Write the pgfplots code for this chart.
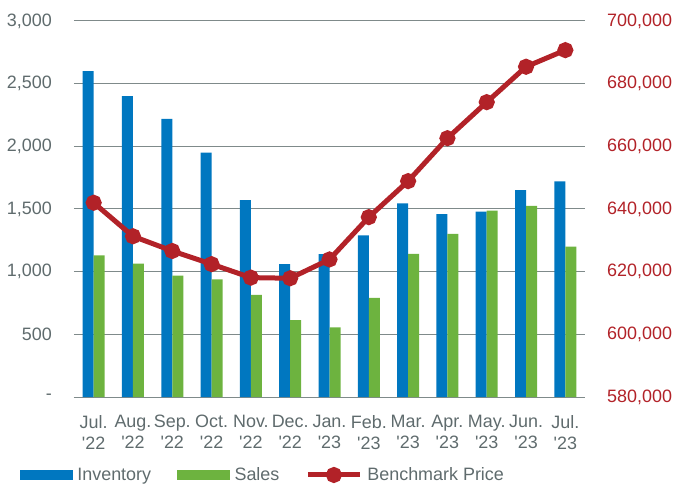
\documentclass[border=0pt]{standalone}
\usepackage{fontspec}
\setmainfont{Liberation Sans}
\usepackage{pgfplots}
\pgfplotsset{compat=1.18}

\definecolor{invblue}{HTML}{0077C0}
\definecolor{salesgreen}{HTML}{6DB33F}
\definecolor{pricered}{HTML}{B22228}
\definecolor{textgray}{HTML}{5F6B6D}
\definecolor{gridgray}{HTML}{7F8A8A}

\newcommand{\q}{\textquotesingle}

% month index, inventory, sales
\pgfplotstableread{
x inv sales
0 2600 1130
1 2400 1065
2 2220 968
3 1950 939
4 1570 814
5 1060 614
6 1140 556
7 1290 790
8 1545 1141
9 1460 1301
10 1480 1487
11 1650 1524
12 1720 1200
}\barsdata

\pgfplotstableread{
x price
0 642000
1 631300
2 626600
3 622400
4 618100
5 617900
6 623900
7 637400
8 648900
9 662600
10 674100
11 685400
12 690700
}\pricedata

\begin{document}
\begin{tikzpicture}
\pgfplotsset{
  every axis/.append style={
    scale only axis,
    width=511bp, height=376bp,
    xmin=-0.5, xmax=12.5,
    font=\fontsize{18}{21}\selectfont,
  },
}
\begin{axis}[
  name=ax,
  ybar=0pt, bar width=11bp,
  ymin=0, ymax=3000,
  ytick={0,500,...,3000},
  yticklabels={-,500,{1,000},{1,500},{2,000},{2,500},{3,000}},
  xtick={0,...,12},
  xticklabels={Jul.\\\q22,Aug.\\\q22,Sep.\\\q22,Oct.\\\q22,Nov.\\\q22,Dec.\\\q22,Jan.\\\q23,Feb.\\\q23,Mar.\\\q23,Apr.\\\q23,May.\\\q23,Jun.\\\q23,Jul.\\\q23},
  xticklabel style={align=center, text=textgray, inner sep=0pt, yshift=-18bp},
  yticklabel style={text=textgray, inner sep=0pt, xshift=-22bp},
  major tick length=0pt,
  axis x line*=bottom, axis y line*=left,
  x axis line style={draw=gridgray, line width=1bp},
  y axis line style={draw=none},
  ymajorgrids, grid style={draw=gridgray, line width=1bp},
]
\addplot[fill=invblue, draw=none] table[x=x, y=inv] {\barsdata};
\addplot[fill=salesgreen, draw=none] table[x=x, y=sales] {\barsdata};
\end{axis}

\begin{axis}[
  ymin=580000, ymax=700000,
  scaled y ticks=false,
  ytick={580000,600000,...,700000},
  yticklabels={{580,000},{600,000},{620,000},{640,000},{660,000},{680,000},{700,000}},
  yticklabel style={text=pricered, inner sep=0pt, xshift=22bp},
  major tick length=0pt,
  axis x line=none,
  axis y line*=right,
  y axis line style={draw=none},
  legend columns=3,
  legend style={
    draw=none, fill=none, inner sep=0pt, outer sep=0pt,
    at={(-0.1057,-0.2074)}, anchor=west,
    text=textgray,
    nodes={inner sep=0pt},
    /tikz/every odd column/.append style={column sep=5bp},
    /tikz/every even column/.append style={column sep=26bp},
  },
]
\addlegendimage{legend image code/.code={\fill[invblue] (0bp,-4.5bp) rectangle (52bp,4.5bp);}}
\addlegendentry{Inventory}
\addlegendimage{legend image code/.code={\fill[salesgreen] (0bp,-4.5bp) rectangle (52bp,4.5bp);}}
\addlegendentry{Sales}
\addplot[pricered, line width=5bp, mark=*, mark size=5.5bp, mark options={fill=pricered, draw=none},
  legend image code/.code={\draw[pricered, line width=5bp] (0bp,0bp) -- (52bp,0bp); \fill[pricered] (26bp,0bp) circle (5.5bp);}]
  table[x=x, y=price] {\pricedata};
\addlegendentry{Benchmark Price}
\end{axis}

\pgfresetboundingbox
\path ([shift={(-74bp,-90bp)}]ax.south west) rectangle ([shift={(91bp,21bp)}]ax.north east);
\end{tikzpicture}
\end{document}
